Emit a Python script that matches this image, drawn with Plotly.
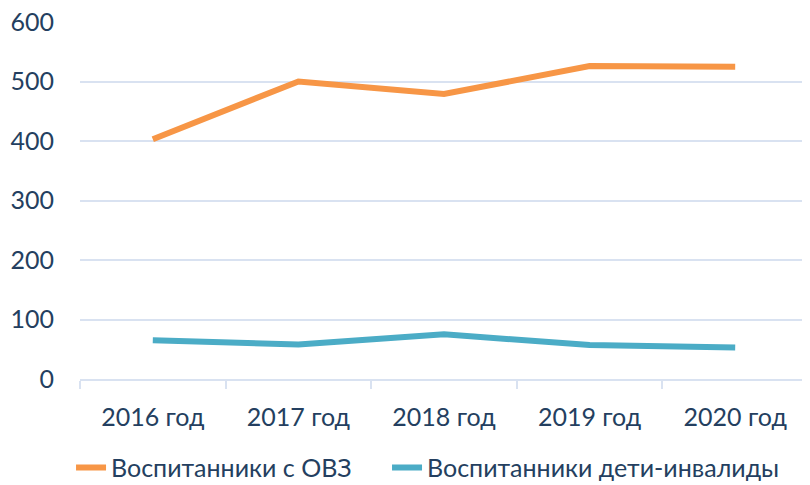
import plotly.graph_objects as go

categories = ["2016 год", "2017 год", "2018 год", "2019 год", "2020 год"]
ovz = [403, 500, 479, 526, 525]
invalid = [65, 58, 75, 57, 53]
names = ["Воспитанники с ОВЗ", "Воспитанники дети-инвалиды"]
y_ticks = [0, 100, 200, 300, 400, 500, 600]

text_color = "#243F60"
grid_color = "#D9E2F1"
font_family = "Lato, 'Open Sans', sans-serif"
fs = 25

fig = go.Figure()
fig.add_trace(go.Scatter(x=categories, y=ovz, mode="lines", name=names[0],
                         line=dict(color="#F79646", width=6), legend="legend"))
fig.add_trace(go.Scatter(x=categories, y=invalid, mode="lines", name=names[1],
                         line=dict(color="#4BACC6", width=6), legend="legend2"))

leg_common = dict(orientation="h", xref="container", yref="container",
                  xanchor="left", y=0.036, yanchor="middle",
                  font=dict(size=fs, color=text_color))

# page body has an 8px default margin, so the figure is sized to fit inside it
fig.update_layout(
    width=802, height=477,
    margin=dict(l=72, r=2, t=14, b=106, autoexpand=False),
    paper_bgcolor="white", plot_bgcolor="white",
    font=dict(family=font_family, size=fs, color=text_color),
    showlegend=True,
    legend=dict(x=0.0786, **leg_common),
    legend2=dict(x=0.4726, **leg_common),
)
fig.update_xaxes(type="category", range=[-0.5, 4.5], automargin=False,
                 showgrid=False, showline=True, linecolor=grid_color,
                 linewidth=2, ticks="outside", tickson="boundaries", ticklen=8,
                 tickcolor=grid_color, tickwidth=2, ticklabelstandoff=15,
                 tickfont=dict(size=fs, color=text_color))
fig.update_yaxes(range=[0, 600], tickvals=y_ticks, automargin=False,
                 ticklabeloverflow="allow",
                 showgrid=True, gridcolor=grid_color,
                 gridwidth=2, zeroline=False, showline=False, ticks="",
                 ticklabelstandoff=25, tickfont=dict(size=fs, color=text_color))

fig.write_html("out.html")
